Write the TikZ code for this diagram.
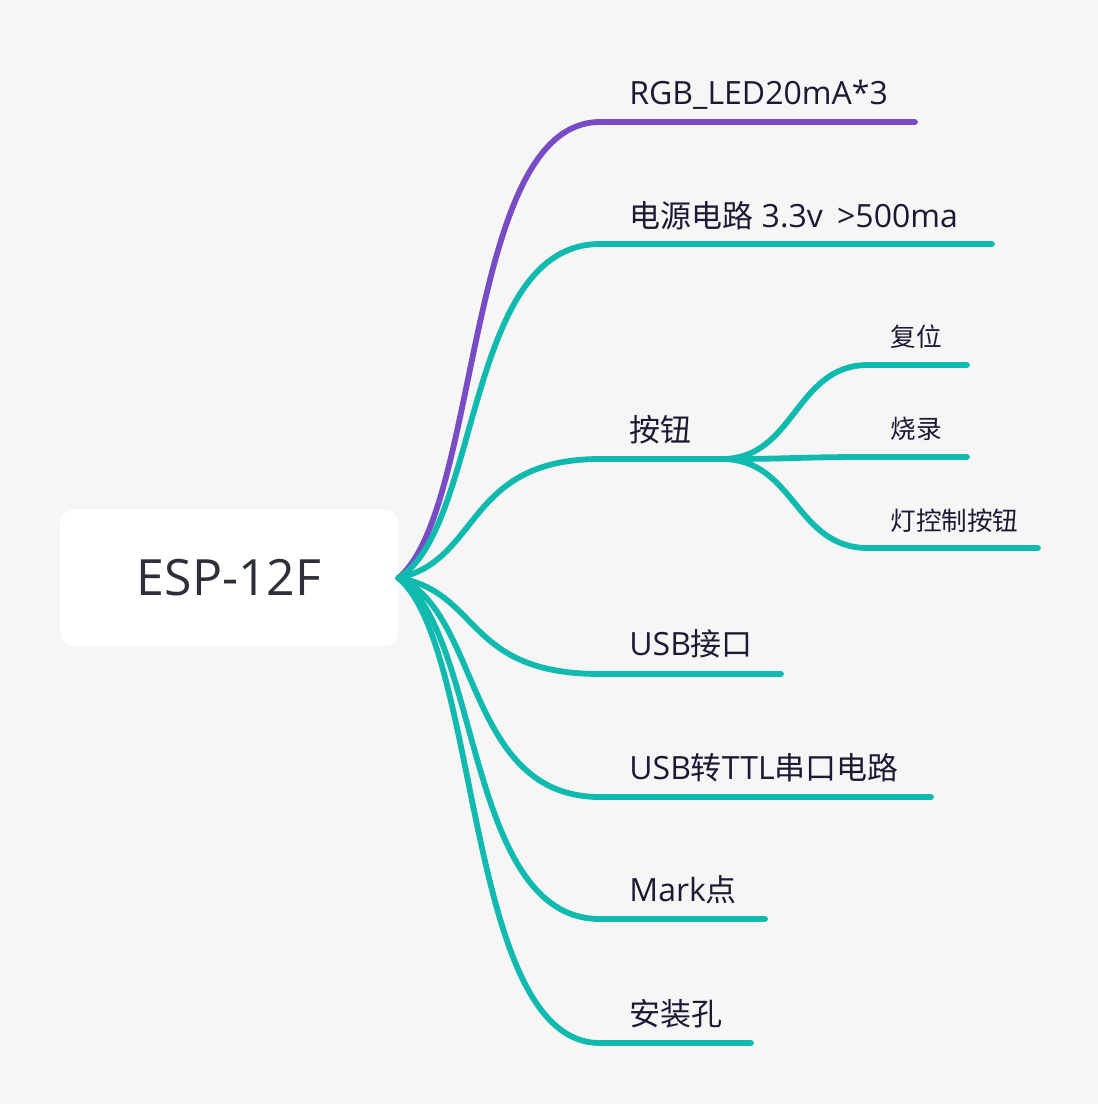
\documentclass[tikz,border=0pt]{standalone}
\usepackage{fontspec}
\setmainfont{Open Sans}
\newfontfamily\cjk{Noto Sans CJK SC}
\usetikzlibrary{calc}
\definecolor{bgc}{HTML}{F6F6F6}
\definecolor{brteal}{HTML}{10BAAF}
\definecolor{brpurple}{HTML}{784CC4}
\definecolor{lblc}{HTML}{1C1A33}
\definecolor{rootc}{HTML}{2D3038}
\newcommand\zh[1]{{\fontsize{15.5}{19}\cjk #1}}
% main branch: from root to start of horizontal, then horizontal to end
\newcommand\mbranch[3][brteal]{%
  \draw[branch,#1] let \p1=(root.east), \p2=(#2) in
    (\p1) .. controls ({\x1+0.41*(\x2-\x1)},{\y1+0.15*(\y2-\y1)}) and ({\x1+0.33*(\x2-\x1)},\y2) .. (\p2) -- (#3);}
% sub branch: S-curve from fork
\newcommand\sbranch[3]{%
  \draw[branch] let \p1=(#1), \p2=(#2) in
    (\p1) .. controls ({\x1+0.5*(\x2-\x1)},\y1) and ({\x1+0.5*(\x2-\x1)},\y2) .. (\p2) -- (#3);}
\begin{document}
\begin{tikzpicture}[x=0.5pt,y=-0.5pt,
  branch/.style={line width=2.9pt, line cap=round, brteal},
  lbl/.style={anchor=base west, inner sep=0pt, text=lblc, font=\fontsize{16}{19}\selectfont},
  sublbl/.style={anchor=base west, inner sep=0pt, text=lblc, font=\fontsize{12.8}{15}\selectfont\cjk},
  rootbox/.style={fill=white, rounded corners=6.5pt, minimum width=169pt, minimum height=68pt, inner sep=0pt, text=rootc, font=\fontsize{25}{30}\selectfont}]
\fill[bgc] (0,0) rectangle (1098,1104);
\node[rootbox] (root) at (229,578) {ESP-12F};
% branch coordinates
\coordinate (s1) at (600,122);  \coordinate (e1) at (915,122);
\coordinate (s2) at (600,244);  \coordinate (e2) at (992,244);
\coordinate (s3) at (600,459);  \coordinate (f3) at (722,459);
\coordinate (s4) at (600,674);  \coordinate (e4) at (781,674);
\coordinate (s5) at (600,797);  \coordinate (e5) at (931,797);
\coordinate (s6) at (600,919);  \coordinate (e6) at (765,919);
\coordinate (s7) at (600,1043); \coordinate (e7) at (751,1043);
\coordinate (c1s) at (868,365); \coordinate (c1e) at (967,365);
\coordinate (c2s) at (868,457); \coordinate (c2e) at (967,457);
\coordinate (c3s) at (868,548); \coordinate (c3e) at (1038,548);
% connectors
\mbranch[brpurple]{s1}{e1}
\mbranch{s2}{e2}
\mbranch{s3}{f3}
\mbranch{s4}{e4}
\mbranch{s5}{e5}
\mbranch{s6}{e6}
\mbranch{s7}{e7}
\sbranch{f3}{c1s}{c1e}
\sbranch{f3}{c2s}{c2e}
\sbranch{f3}{c3s}{c3e}
% labels
\node[lbl] (t1) at (629,104) {RGB\_LED20mA*3};
\node[lbl] (t2) at (629,227) {\zh{电源电路} 3.3v\hspace{3pt} >500ma};
\node[lbl] (t3) at (629,441) {\zh{按钮}};
\node[lbl] (t4) at (629,655) {USB\zh{接口}};
\node[lbl] (t5) at (629,779) {USB\zh{转}TTL\zh{串口电路}};
\node[lbl] (t6) at (629,901) {Mark\zh{点}};
\node[lbl] (t7) at (629,1025) {\zh{安装孔}};
\node[sublbl] (u1) at (890,346) {复位};
\node[sublbl] (u2) at (890,438) {烧录};
\node[sublbl] (u3) at (890,530) {灯控制按钮};
\end{tikzpicture}
\end{document}
